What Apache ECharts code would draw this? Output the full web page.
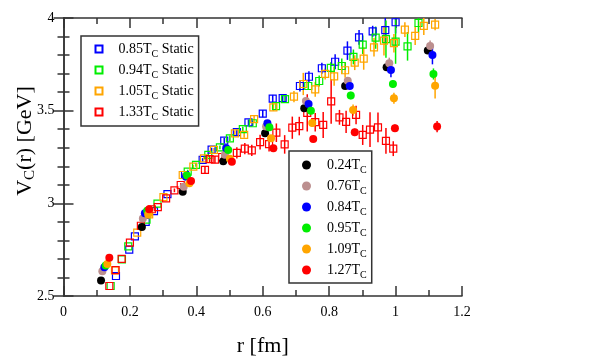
<!DOCTYPE html>
<html>
<head>
<meta charset="utf-8">
<script src="https://cdn.jsdelivr.net/npm/echarts@6/dist/echarts.min.js"></script>
<style>
  html, body { margin: 0; padding: 0; background: #fff; }
  #chart { width: 595px; height: 364px; }
</style>
</head>
<body>
<div id="chart"></div>
<script>
// [r (fm), V (GeV), error]
const static085 = [[0.158,2.608,0],[0.198,2.750,0],[0.215,2.822,0],[0.2475,2.900,0],[0.2725,2.958,0],[0.313,3.050,0],[0.366,3.153,0.01],[0.419,3.234,0.01],[0.446,3.290,0.01],[0.484,3.338,0.015],[0.522,3.384,0.015],[0.557,3.437,0.015],[0.600,3.484,0.02],[0.630,3.565,0.02],[0.660,3.568,0.02],[0.712,3.633,0.03],[0.739,3.683,0.03],[0.778,3.729,0.03],[0.818,3.764,0.04],[0.855,3.824,0.05],[0.890,3.895,0.04],[0.931,3.928,0.03],[0.969,3.935,0.08],[1.000,3.977,0.06]];
const static094 = [[0.142,2.554,0],[0.176,2.698,0],[0.195,2.768,0],[0.250,2.912,0],[0.283,2.998,0],[0.374,3.171,0.01],[0.399,3.207,0.01],[0.436,3.261,0.01],[0.471,3.302,0.01],[0.501,3.351,0.015],[0.540,3.400,0.015],[0.570,3.432,0.015],[0.640,3.525,0.02],[0.667,3.562,0.02],[0.737,3.633,0.02],[0.770,3.660,0.03],[0.805,3.731,0.03],[0.838,3.741,0.04],[0.873,3.790,0.04],[0.901,3.856,0.05],[0.940,3.894,0.06],[0.971,3.886,0.1],[1.000,3.873,0.12],[1.036,3.847,0.077],[1.069,3.973,0.05]];
const static105 = [[0.155,2.638,0],[0.222,2.842,0],[0.258,2.940,0],[0.301,3.033,0],[0.359,3.153,0.01],[0.391,3.198,0.01],[0.423,3.243,0.01],[0.453,3.288,0.01],[0.516,3.378,0.015],[0.544,3.369,0.015],[0.574,3.454,0.02],[0.632,3.518,0.02],[0.694,3.576,0.03],[0.722,3.644,0.06],[0.758,3.615,0.04],[0.788,3.698,0.03],[0.815,3.685,0.05],[0.848,3.718,0.04],[0.877,3.759,0.04],[0.904,3.781,0.06],[0.935,3.842,0.05],[0.965,3.878,0.08],[0.995,3.864,0.05],[1.028,3.937,0.04],[1.059,3.904,0.05],[1.085,3.958,0.05],[1.119,3.964,0.03]];
const static133 = [[0.138,2.554,0],[0.157,2.640,0],[0.175,2.700,0],[0.200,2.788,0],[0.233,2.879,0],[0.266,2.968,0],[0.284,2.980,0],[0.309,3.027,0],[0.334,3.070,0.01],[0.353,3.099,0.01],[0.426,3.180,0.02],[0.440,3.238,0.02],[0.456,3.236,0.02],[0.478,3.250,0.02],[0.522,3.272,0.03],[0.546,3.295,0.03],[0.567,3.286,0.03],[0.592,3.330,0.04],[0.619,3.320,0.04],[0.641,3.381,0.05],[0.666,3.318,0.05],[0.689,3.408,0.06],[0.710,3.417,0.05],[0.734,3.488,0.1],[0.758,3.438,0.05],[0.782,3.423,0.07],[0.806,3.550,0.12],[0.831,3.464,0.04],[0.851,3.440,0.06],[0.881,3.477,0.05],[0.901,3.369,0.054],[0.923,3.398,0.094],[0.947,3.410,0.08],[0.971,3.337,0.07],[0.993,3.295,0.04]];

const pot024 = [[0.113,2.583,0],[0.236,2.872,0],[0.359,3.062,0],[0.481,3.227,0],[0.607,3.378,0],[0.725,3.513,0],[0.848,3.633,0],[0.973,3.734,0],[1.097,3.824,0]];
const pot076 = [[0.117,2.633,0],[0.239,2.918,0],[0.362,3.090,0],[0.486,3.262,0],[0.610,3.415,0],[0.730,3.552,0.01],[0.856,3.662,0.02],[0.981,3.756,0.03],[1.104,3.849,0.03]];
const pot084 = [[0.123,2.655,0],[0.245,2.946,0],[0.369,3.144,0],[0.490,3.297,0],[0.614,3.432,0],[0.738,3.536,0.01],[0.862,3.633,0.02],[0.986,3.720,0.04],[1.111,3.800,0.05]];
const pot095 = [[0.127,2.665,0],[0.252,2.960,0],[0.372,3.150,0],[0.496,3.288,0],[0.620,3.410,0],[0.745,3.500,0.01],[0.865,3.582,0.02],[0.992,3.644,0.02],[1.114,3.698,0.03]];
const pot109 = [[0.132,2.673,0],[0.255,2.940,0],[0.379,3.108,0],[0.501,3.240,0],[0.625,3.351,0],[0.749,3.433,0.02],[0.872,3.503,0.03],[0.995,3.567,0.03],[1.119,3.635,0.07]];
const pot127 = [[0.138,2.706,0],[0.258,2.968,0],[0.384,3.120,0],[0.507,3.225,0],[0.632,3.297,0],[0.752,3.347,0.01],[0.877,3.383,0.02],[0.998,3.405,0.02],[1.125,3.414,0.03]];

const xTicks = [0, 1.2, 0.2];
const yTicks = [2.5, 4, 0.5];

const staticSets = [
  { name: "0.85T_C Static", data: static085, color: "#0000ff" },
  { name: "0.94T_C Static", data: static094, color: "#00ee00" },
  { name: "1.05T_C Static", data: static105, color: "#ffa500" },
  { name: "1.33T_C Static", data: static133, color: "#ff0000" },
];
const potSets = [
  { name: "0.24T_C", data: pot024, color: "#000000" },
  { name: "0.76T_C", data: pot076, color: "#bc8f8f" },
  { name: "0.84T_C", data: pot084, color: "#0000ff" },
  { name: "0.95T_C", data: pot095, color: "#00ee00" },
  { name: "1.09T_C", data: pot109, color: "#ffa500" },
  { name: "1.27T_C", data: pot127, color: "#ff0000" },
];

const serif = "'Liberation Serif', 'DejaVu Serif', serif";

function errBars(set) {
  return {
    name: set.name + " err",
    type: "custom",
    clip: true,
    silent: true,
    data: set.data.filter((d) => d[2] > 0),
    renderItem: (params, api) => {
      const x = api.value(0), y = api.value(1), e = api.value(2);
      const p1 = api.coord([x, y - e]);
      const p2 = api.coord([x, y + e]);
      return {
        type: "line",
        shape: { x1: p1[0], y1: p1[1], x2: p2[0], y2: p2[1] },
        style: { stroke: set.color, lineWidth: 1.5 },
      };
    },
  };
}

function subFmt(name) {
  const parts = name.split("_");
  return "{g|}{a|" + parts[0] + "}{s|" + parts[1].slice(0, 1) + "}{a|" + parts[1].slice(1) + "}";
}
const legendRich = {
  g: { width: 11 },
  a: { fontFamily: serif, fontSize: 14, color: "#000", lineHeight: 20, verticalAlign: "middle" },
  s: { fontFamily: serif, fontSize: 10, color: "#000", lineHeight: 10, verticalAlign: "bottom" },
};

let series = [];
staticSets.forEach((s) => series.push(errBars(s)));
staticSets.forEach((s) => {
  series.push({
    name: s.name,
    type: "scatter",
    symbol: "rect",
    symbolSize: 7,
    itemStyle: { color: "rgba(0,0,0,0)", borderColor: s.color, borderWidth: 1.2, opacity: 1 },
    data: s.data.map((d) => [d[0], d[1]]),
  });
});
potSets.forEach((s) => series.push(errBars(s)));
potSets.forEach((s) => {
  series.push({
    name: s.name,
    type: "scatter",
    symbol: "circle",
    symbolSize: 8,
    itemStyle: { color: s.color, opacity: 1 },
    data: s.data.map((d) => [d[0], d[1]]),
  });
});

const axisLine = { show: true, lineStyle: { color: "#333", width: 1.5 } };
const axisTick = { show: true, inside: true, length: 10, lineStyle: { color: "#333", width: 1.5 } };
const minorTick = { show: true, length: 6, lineStyle: { color: "#333", width: 1.5 } };

let chart = echarts.init(document.getElementById("chart"));
let option = {
  animation: false,
  backgroundColor: "#fff",
  grid: { left: 63.5, right: 133, top: 18, bottom: 68 },
  legend: [
    {
      data: staticSets.map((s) => s.name),
      orient: "vertical",
      left: 81,
      top: 36,
      itemWidth: 7,
      itemHeight: 7,
      itemGap: 4,
      padding: [6, 5, 4, 13.5],
      borderColor: "#333",
      borderWidth: 1.5,
      selectedMode: false,
      formatter: subFmt,
      textStyle: { rich: legendRich },
    },
    {
      data: potSets.map((s) => s.name),
      orient: "vertical",
      left: 289,
      top: 151,
      itemWidth: 9,
      itemHeight: 9,
      itemGap: 4,
      padding: [7, 5, 3, 13],
      borderColor: "#333",
      borderWidth: 1.5,
      selectedMode: false,
      formatter: subFmt,
      textStyle: { rich: legendRich },
    },
  ],
  xAxis: [
    {
      type: "value",
      min: xTicks[0],
      max: xTicks[1],
      interval: xTicks[2],
      name: "r [fm]",
      nameLocation: "middle",
      nameGap: 39,
      nameTextStyle: { fontFamily: serif, fontSize: 22, color: "#000" },
      axisLine: axisLine,
      axisTick: axisTick,
      minorTick: Object.assign({ splitNumber: 2 }, minorTick),
      splitLine: { show: false },
      axisLabel: { fontFamily: serif, fontSize: 14, color: "#000", margin: 9 },
    },
    {
      type: "value",
      position: "top",
      min: xTicks[0],
      max: xTicks[1],
      interval: xTicks[2],
      axisLine: axisLine,
      axisTick: axisTick,
      minorTick: Object.assign({ splitNumber: 2 }, minorTick),
      splitLine: { show: false },
      axisLabel: { show: false },
    },
  ],
  yAxis: [
    {
      type: "value",
      min: yTicks[0],
      max: yTicks[1],
      interval: yTicks[2],
      axisLine: axisLine,
      axisTick: axisTick,
      minorTick: Object.assign({ splitNumber: 5 }, minorTick),
      splitLine: { show: false },
      axisLabel: { fontFamily: serif, fontSize: 14, color: "#000", margin: 9 },
    },
    {
      type: "value",
      position: "right",
      min: yTicks[0],
      max: yTicks[1],
      interval: yTicks[2],
      axisLine: axisLine,
      axisTick: axisTick,
      minorTick: Object.assign({ splitNumber: 5 }, minorTick),
      splitLine: { show: false },
      axisLabel: { show: false },
    },
  ],
  graphic: [
    {
      type: "text",
      x: 25,
      y: 141,
      rotation: Math.PI / 2,
      style: {
        text: "{a|V}{s|C}{a|(r) [GeV]}",
        align: "center",
        verticalAlign: "middle",
        rich: {
          a: { fontFamily: serif, fontSize: 22, fill: "#000", lineHeight: 26, verticalAlign: "middle" },
          s: { fontFamily: serif, fontSize: 15, fill: "#000", lineHeight: 12, verticalAlign: "bottom" },
        },
      },
    },
  ],
  series: series,
};
chart.setOption(option, true);
</script>
</body>
</html>
